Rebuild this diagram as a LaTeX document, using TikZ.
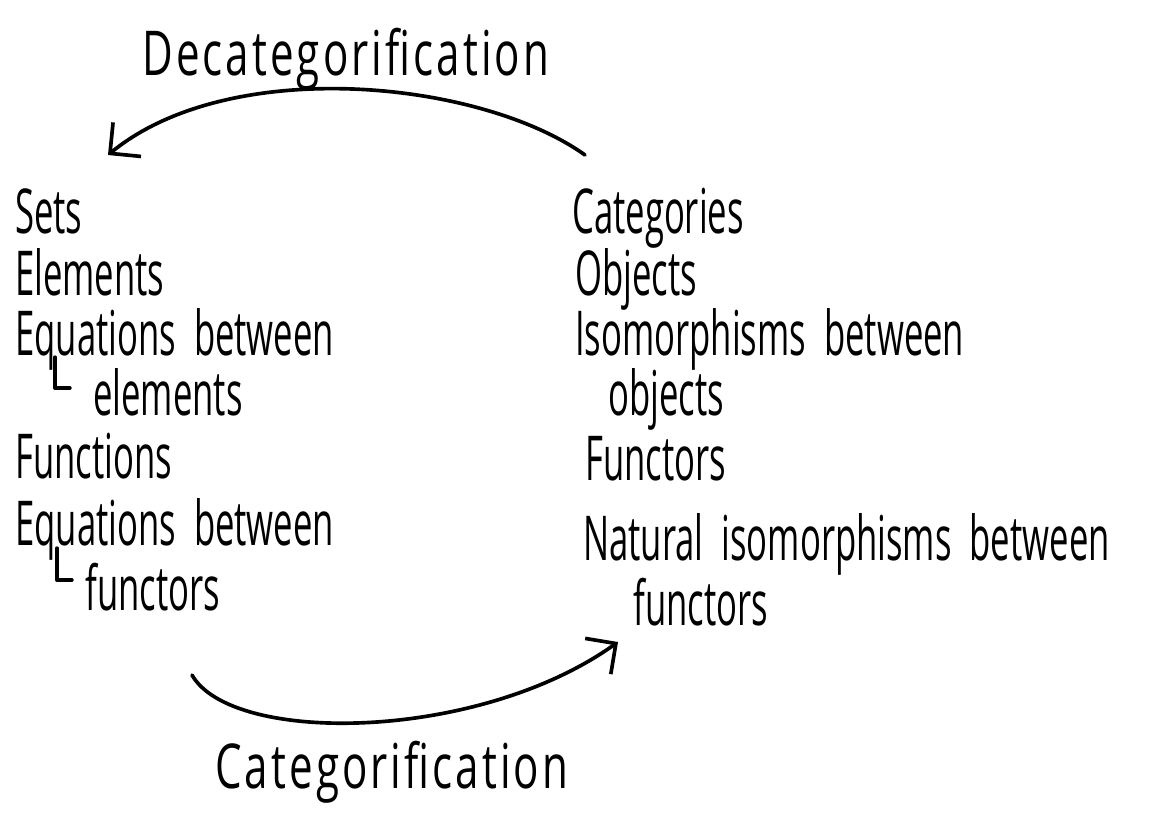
\documentclass[tikz,border=0pt]{standalone}
\usepackage{fontspec}
\newfontfamily\handfont[FakeStretch=0.56]{Open Sans}
\newfontfamily\labelfont[FakeStretch=0.68, LetterSpace=5]{Open Sans}
\usetikzlibrary{arrows.meta}

\tikzset{
  entry/.style={anchor=base west, inner sep=0pt,
    font=\handfont\fontsize{44pt}{52pt}\selectfont},
  arrowlabel/.style={anchor=base west, inner sep=0pt,
    font=\labelfont\fontsize{44pt}{52pt}\selectfont},
  catarrow/.style={line width=2.6pt, line cap=round,
    -{Straight Barb[length=5.5mm, width=11mm, line width=2.6pt]}},
  hook/.style={line width=2.4pt, line cap=round, line join=round}
}

\begin{document}
\begin{tikzpicture}[x=0.025cm, y=-0.025cm]
  \useasboundingbox (0,0) rectangle (1158,818);

  % Left column
  \node (sets) [entry] at (15,233) {Sets};
  \node (elem) [entry] at (15,295) {Elements};
  \node (eqel) [entry] at (15,355) {Equations\ \ between};
  \node (eqelb) [entry] at (93,415) {elements};
  \node (func) [entry] at (15,478) {Functions};
  \node (eqfn) [entry] at (15,545) {Equations\ \ between};
  \node (eqfnb) [entry] at (85,610) {functors};

  % Right column
  \node (cats) [entry] at (572,233) {Categories};
  \node (objs) [entry] at (575,295) {Objects};
  \node (isos) [entry] at (575,355) {Isomorphisms\ \ between};
  \node (isosb) [entry] at (608,415) {objects};
  \node (ftors) [entry] at (585,480) {Functors};
  \node (natiso) [entry] at (583,560) {Natural\ \ isomorphisms\ \ between};
  \node (natisob) [entry] at (633,625) {functors};

  % the two arrows and their labels
  \node (decat) [arrowlabel] at (142,75) {Decategorification};
  \node (cat) [arrowlabel] at (215,788) {Categorification};

  \coordinate (decatfrom) at (585,155);
  \coordinate (decatto) at (108,155);
  \coordinate (catfrom) at (192,675);
  \coordinate (catto) at (618,642);

  \draw[catarrow] (decatfrom) .. controls +(-105,-75) and +(122,-100) .. (decatto);
  \draw[catarrow] (catfrom) .. controls +(40,70) and +(-140,100) .. (catto);

  % hooks in front of the wrapped lines
  \draw[hook] (eqelb.base west) ++(-38,-58) |- ++(15,31);
  \draw[hook] (eqfnb.base west) ++(-28,-62) |- ++(15,32);
\end{tikzpicture}
\end{document}
